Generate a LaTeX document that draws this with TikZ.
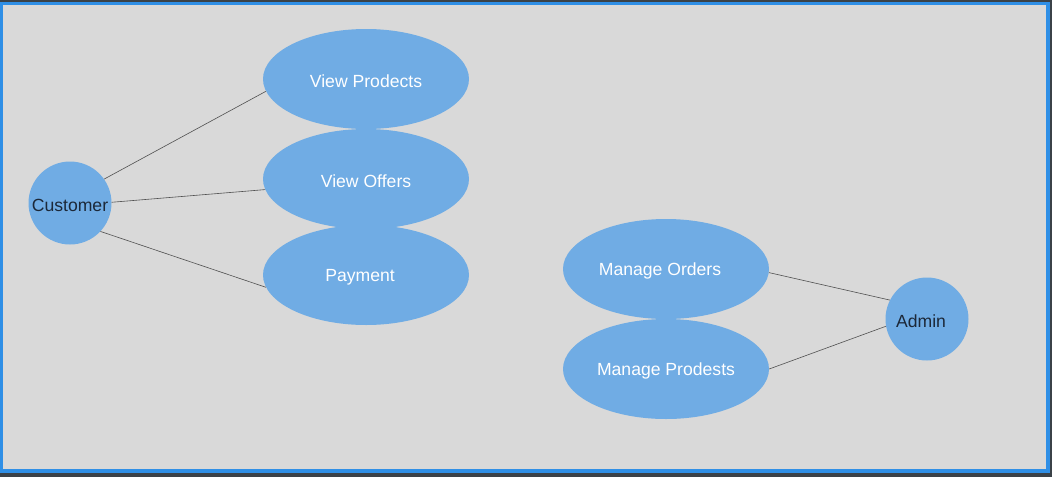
\documentclass[tikz,border=0pt]{standalone}
\usepackage{fontspec}
\setmainfont{Liberation Sans}
\usetikzlibrary{shapes.geometric}
\definecolor{frame}{HTML}{3B4248}
\definecolor{edgeblue}{HTML}{2F8FE6}
\definecolor{canvas}{HTML}{D9D9D9}
\definecolor{usecase}{HTML}{70ACE4}
\definecolor{actortext}{HTML}{1C2838}
\definecolor{wire}{HTML}{505050}
\newcommand{\lowtext}[1]{\raisebox{-2pt}[\height][\depth]{#1}}
\begin{document}
\begin{tikzpicture}[x=1pt,y=-1pt]

      \fill[frame] (0,0) rectangle (1052,477);
      \fill[edgeblue] (0,2) rectangle (1050,473);
      \fill[canvas] (3,5) rectangle (1046,469);
      \useasboundingbox (0,0) rectangle (1052,477);

      % use cases
      \begin{scope}[every node/.style={ellipse,fill=usecase,text=white,
          minimum width=206pt,minimum height=100pt,inner sep=0pt,font=\fontsize{17.6}{20}\selectfont}]
        \node (vp) at (366,79)  {\lowtext{View Prodects}};
        \node (vo) at (366,179) {\lowtext{View Offers}};
        \node (pay) at (366,275) {\lowtext{\hspace{-12pt}Payment}};
        \node (mo) at (666,269) {\lowtext{\hspace{-12pt}Manage Orders}};
        \node (mp) at (666,369) {\lowtext{Manage Prodests}};
      \end{scope}

      % actors
      \begin{scope}[every node/.style={circle,fill=usecase,text=actortext,
          minimum size=83pt,inner sep=0pt,font=\fontsize{17.6}{20}\selectfont}]
        \node (cust)  at (70,203)  {\lowtext{Customer}};
        \node (admin) at (927,319) {\lowtext{\hspace{-12pt}Admin}};
      \end{scope}

      \begin{scope}[every edge/.style={draw=wire,line width=0.6pt}]
        \path (cust.35)  edge (vp.187);
        \path (cust.1)   edge (vo.186);
        \path (cust.-43) edge (pay.187);
        \path (admin.153) edge (mo.-2);
        \path (admin.190) edge (mp.0);
      \end{scope}

    \end{tikzpicture}
\end{document}
